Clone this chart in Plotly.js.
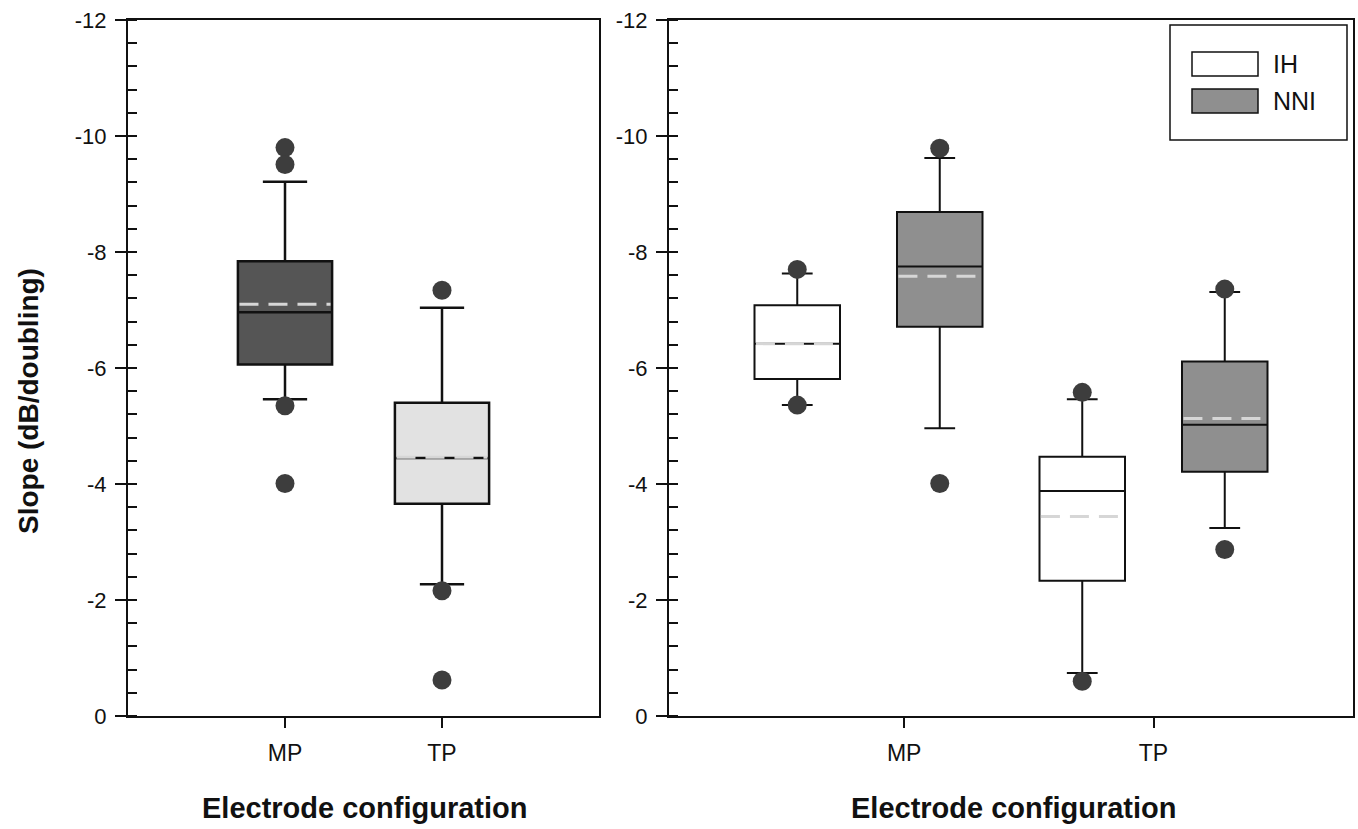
<!DOCTYPE html>
<html><head><meta charset="utf-8">
<script src="https://cdn.plot.ly/plotly-3.0.1.min.js"></script>
<style>html,body{margin:0;padding:0;background:#fff}#chart{width:1358px;height:829px}</style>
</head><body><div id="chart"></div>
<script>
// ---------- DATA ----------
const categories = ["MP", "TP"];
const groups = ["IH", "NNI"];
const yTickValues = [0, -2, -4, -6, -8, -10, -12];

// Left panel: all subjects, by electrode configuration
const allQ1 = [-7.84, -5.40];
const allMedian = [-6.96, -4.45];
const allQ3 = [-6.06, -3.66];
const allLowerFence = [-9.21, -7.04];
const allUpperFence = [-5.46, -2.27];
const allMean = [-7.10, -4.46];
const allOutliers = [[-9.80, -9.51, -5.35, -4.01], [-7.34, -2.16, -0.62]];

// Right panel: IH group
const ihQ1 = [-7.08, -4.47];
const ihMedian = [-6.42, -3.88];
const ihQ3 = [-5.81, -2.33];
const ihLowerFence = [-7.63, -5.46];
const ihUpperFence = [-5.36, -0.74];
const ihMean = [-6.42, -3.44];
const ihOutliers = [[-7.70, -5.36], [-5.58, -0.60]];

// Right panel: NNI group
const nniQ1 = [-8.69, -6.11];
const nniMedian = [-7.75, -5.02];
const nniQ3 = [-6.71, -4.21];
const nniLowerFence = [-9.62, -7.31];
const nniUpperFence = [-4.96, -3.24];
const nniMean = [-7.58, -5.13];
const nniOutliers = [[-9.79, -4.01], [-7.36, -2.87]];

// ---------- LAYOUT / STYLE ----------
const W = 1358, H = 829;
const px = v => v / W;
const py = v => 1 - v / H;

const leftPos = [0, 1];                 // box positions in left panel
const rightPos = {IH: [0, 2], NNI: [1, 3]};
const rightTickPos = [0.75, 2.5];
const boxWidth = 0.6;
const meanColor = '#d6d6d6';
const outlierColor = '#3d3d3d';
const leftFill = ['#555555', '#e2e2e2'];
const groupFill = {IH: '#ffffff', NNI: '#8f8f8f'};
const FONT = 'Liberation Sans, Arial, sans-serif';

const traces = [];

function addBox(pos, q1, med, q3, lf, uf, mean, outs, fill, xa, ya, lw, ww) {
  traces.push({
    type: 'box', x: [pos], q1: [q1], median: [med], q3: [q3],
    lowerfence: [lf], upperfence: [uf],
    width: boxWidth, whiskerwidth: ww, boxpoints: false,
    fillcolor: fill, line: {color: '#111111', width: lw},
    xaxis: xa, yaxis: ya, showlegend: false, hoverinfo: 'skip'
  });
  traces.push({
    type: 'scatter', mode: 'lines',
    x: [pos - boxWidth / 2 + 0.01, pos + boxWidth / 2 - 0.01], y: [mean, mean],
    line: {color: meanColor, width: 3, dash: '19px,10px'},
    xaxis: xa, yaxis: ya, showlegend: false, hoverinfo: 'skip'
  });
  traces.push({
    type: 'scatter', mode: 'markers',
    x: outs.map(() => pos), y: outs,
    marker: {color: outlierColor, size: 19},
    xaxis: xa, yaxis: ya, showlegend: false, hoverinfo: 'skip'
  });
}

categories.forEach((c, i) => {
  addBox(leftPos[i], allQ1[i], allMedian[i], allQ3[i], allLowerFence[i], allUpperFence[i],
         allMean[i], allOutliers[i], leftFill[i], 'x', 'y', 2.5, 0.47);
});
categories.forEach((c, i) => {
  addBox(rightPos.IH[i], ihQ1[i], ihMedian[i], ihQ3[i], ihLowerFence[i], ihUpperFence[i],
         ihMean[i], ihOutliers[i], groupFill.IH, 'x2', 'y2', 2, 0.36);
  addBox(rightPos.NNI[i], nniQ1[i], nniMedian[i], nniQ3[i], nniLowerFence[i], nniUpperFence[i],
         nniMean[i], nniOutliers[i], groupFill.NNI, 'x2', 'y2', 2, 0.36);
});

const yTickText = yTickValues.map(v => String(v));

function yAxis(anchor) {
  return {
    anchor: anchor, domain: [py(716), py(20)], range: [0, -12],
    tickmode: 'array', tickvals: yTickValues, ticktext: yTickText,
    ticks: 'outside', ticklen: 11, tickwidth: 2, tickcolor: '#111',
    ticklabelstandoff: 4,
    minor: {tickmode: 'linear', tick0: 0, dtick: 0.4, ticks: 'inside', ticklen: 9, tickwidth: 2, tickcolor: '#111'},
    showline: true, linewidth: 2, linecolor: '#111', mirror: true,
    showgrid: false, zeroline: false, automargin: false,
    tickfont: {family: FONT, size: 22, color: '#111'}
  };
}
function xAxis(anchor, dom, rng, tv) {
  return {
    anchor: anchor, domain: dom, range: rng,
    tickmode: 'array', tickvals: tv, ticktext: categories,
    ticks: 'outside', ticklen: 10, tickwidth: 2, tickcolor: '#111',
    ticklabelstandoff: 5,
    showline: true, linewidth: 2, linecolor: '#111', mirror: true,
    showgrid: false, zeroline: false, automargin: false,
    tickfont: {family: FONT, size: 23, color: '#111'}
  };
}

const legendShapes = [
  {type: 'rect', xref: 'paper', yref: 'paper', x0: px(1170), x1: px(1347), y0: py(140), y1: py(25),
   line: {color: '#111', width: 1.5}, fillcolor: 'rgba(0,0,0,0)'},
  {type: 'rect', xref: 'paper', yref: 'paper', x0: px(1192), x1: px(1258), y0: py(76), y1: py(52),
   line: {color: '#111', width: 1.5}, fillcolor: groupFill.IH},
  {type: 'rect', xref: 'paper', yref: 'paper', x0: px(1192), x1: px(1258), y0: py(113), y1: py(89),
   line: {color: '#111', width: 1.5}, fillcolor: groupFill.NNI}
];

const annotations = [
  {text: groups[0], xref: 'paper', yref: 'paper', x: px(1271), y: py(64), xanchor: 'left', yanchor: 'middle',
   showarrow: false, font: {family: FONT, size: 25, color: '#111'}},
  {text: groups[1], xref: 'paper', yref: 'paper', x: px(1271), y: py(101), xanchor: 'left', yanchor: 'middle',
   showarrow: false, font: {family: FONT, size: 25, color: '#111'}},
  {text: '<b>Slope (dB/doubling)</b>', xref: 'paper', yref: 'paper', x: px(28), y: py(401), textangle: -90,
   xanchor: 'center', yanchor: 'middle', showarrow: false, font: {family: FONT, size: 28, color: '#111'}},
  {text: '<b>Electrode configuration</b>', xref: 'paper', yref: 'paper', x: px(364), y: py(808),
   xanchor: 'center', yanchor: 'middle', showarrow: false, font: {family: FONT, size: 29, color: '#111'}},
  {text: '<b>Electrode configuration</b>', xref: 'paper', yref: 'paper', x: px(1013), y: py(808),
   xanchor: 'center', yanchor: 'middle', showarrow: false, font: {family: FONT, size: 29, color: '#111'}}
];

const layout = {
  width: W, height: H, margin: {l: 0, r: 0, t: 0, b: 0},
  paper_bgcolor: '#fff', plot_bgcolor: '#fff',
  showlegend: false, boxmode: 'overlay',
  xaxis: xAxis('y', [px(128), px(599)], [-1, 2], leftPos),
  yaxis: yAxis('x'),
  xaxis2: xAxis('y2', [px(669), px(1353)], [-0.9, 3.9], rightTickPos),
  yaxis2: yAxis('x2'),
  shapes: legendShapes,
  annotations: annotations
};

Plotly.newPlot('chart', traces, layout, {staticPlot: true, displayModeBar: false});
</script>
</body></html>
